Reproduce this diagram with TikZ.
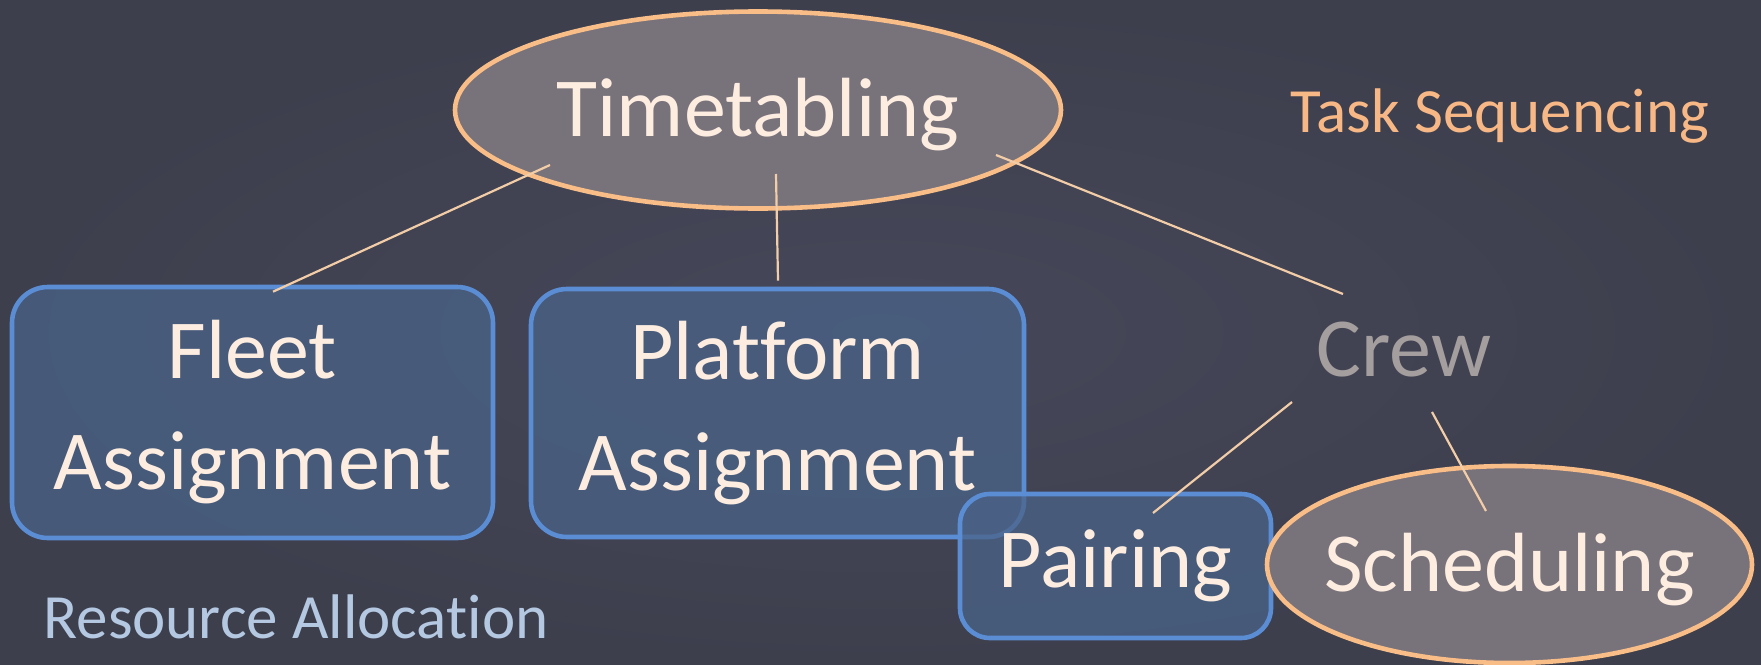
\documentclass[tikz,border=0pt]{standalone}
\usepackage{fontspec}
\setmainfont{Carlito}[Ligatures=NoCommon]
\usetikzlibrary{shapes.geometric}
\definecolor{bgslate}{HTML}{3D3F4D}
\definecolor{bgslatelight}{HTML}{46485A}
\definecolor{peach}{HTML}{F9BD88}
\definecolor{mauve}{HTML}{78727A}
\definecolor{cream}{HTML}{FDEDE0}
\definecolor{boxblue}{HTML}{5B8DD5}
\definecolor{boxfill}{HTML}{4A6388}
\definecolor{linepeach}{HTML}{F3CDA8}
\definecolor{tasktext}{HTML}{F8B886}
\definecolor{restext}{HTML}{B4C8E2}
\definecolor{crewtext}{HTML}{A59E9E}
\begin{document}
\begin{tikzpicture}[x=0.5pt,y=-0.5pt,
  bigtext/.style={font=\fontsize{42}{55.5}\selectfont, text=cream},
  smalltext/.style={font=\fontsize{31.5}{38}\selectfont, inner sep=0pt,
    text height=20.2pt, text depth=0pt},
  ovalnode/.style={ellipse, draw=peach, line width=2.3pt, fill=mauve,
    inner xsep=-10pt, inner ysep=0pt, bigtext, text height=26.9pt, text depth=0pt},
  boxnode/.style={rectangle, rounded corners=18pt, draw=boxblue, line width=2.3pt,
    fill=boxfill, fill opacity=0.75, text opacity=1, bigtext, align=center, inner sep=0pt},
  link/.style={draw=linepeach, line width=1.1pt},
]
% backdrop
\useasboundingbox (0,0) rectangle (1761,664);
\shade[inner color=bgslatelight, outer color=bgslate] (0,0) rectangle (1761,664);

% resource boxes
\node[boxnode, minimum width=240.5pt, minimum height=125.5pt] (fleet) at (252.5,412.5) {Fleet\\Assignment};
\node[boxnode, minimum width=246.5pt, minimum height=124pt] (platform) at (777.5,413) {Platform\\Assignment};
\node[boxnode, minimum width=155.5pt, minimum height=72pt, rounded corners=15pt] (pairing) at (1115.5,566) {Pairing};

% sequencing ovals
\node[ovalnode, minimum width=303pt, minimum height=98.5pt] (tt) at (758,110) {Timetabling};
\node[ovalnode, minimum width=242.5pt, minimum height=98.5pt] (sched) at (1509.5,564.5) {Scheduling};

% plain labels
\node[bigtext, text=crewtext, inner sep=0pt, text height=26.9pt, text depth=0pt] (crew) at (1404,350) {Crew};
\node[smalltext, text=tasktext] (task) at (1500,112) {Task Sequencing};
\node[smalltext, text=restext] (res) at (296,618) {Resource Allocation};

% connectors
\draw[link] ([shift={(-208,55)}]tt.center) -- ([shift={(20.5,7)}]fleet.north);
\draw[link] ([shift={(18,64)}]tt.center) -- ([shift={(0.5,-6)}]platform.north);
\draw[link] ([shift={(238,45)}]tt.center) -- ([shift={(-61,-56)}]crew.center);
\draw[link] ([shift={(-112,52)}]crew.center) -- ([shift={(37.5,-53)}]pairing.center);
\draw[link] ([shift={(28,62)}]crew.center) -- ([shift={(-23.5,-53.5)}]sched.center);
\end{tikzpicture}
\end{document}
